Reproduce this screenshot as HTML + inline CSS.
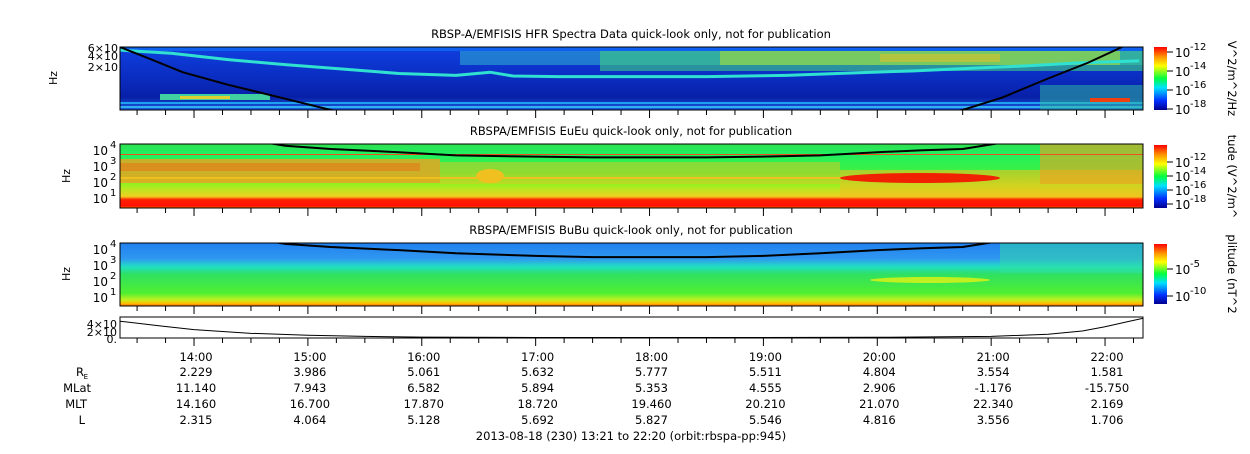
<!DOCTYPE html>
<html><head><meta charset="utf-8"><style>
body{margin:0;background:#fff;width:1250px;height:449px;overflow:hidden}
svg text{font-family:"DejaVu Sans","Liberation Sans",sans-serif;fill:#000}
</style></head><body>
<svg id="c" width="1250" height="449" xmlns="http://www.w3.org/2000/svg">
<defs>
<linearGradient id="g1" x1="0" y1="0" x2="0" y2="1">
<stop offset="0" stop-color="#1040e0"/><stop offset="0.5" stop-color="#0a2cc0"/><stop offset="0.8" stop-color="#0820a8"/><stop offset="1" stop-color="#1860e0"/></linearGradient>
<linearGradient id="g2" x1="0" y1="0" x2="0" y2="1">
<stop offset="0" stop-color="#30e050"/><stop offset="0.15" stop-color="#20f060"/><stop offset="0.45" stop-color="#40f040"/><stop offset="0.65" stop-color="#a0f020"/><stop offset="0.82" stop-color="#f0d020"/><stop offset="0.87" stop-color="#ff2000"/><stop offset="0.97" stop-color="#ff1000"/><stop offset="1" stop-color="#ff8000"/></linearGradient>
<linearGradient id="g3" x1="0" y1="0" x2="0" y2="1">
<stop offset="0" stop-color="#2080f0"/><stop offset="0.25" stop-color="#3098f0"/><stop offset="0.38" stop-color="#20e0c0"/><stop offset="0.5" stop-color="#30e060"/><stop offset="0.8" stop-color="#50f030"/><stop offset="0.9" stop-color="#c0f020"/><stop offset="0.96" stop-color="#ffc000"/><stop offset="1" stop-color="#ff6000"/></linearGradient>
<linearGradient id="cb" x1="0" y1="1" x2="0" y2="0">
<stop offset="0" stop-color="#00008f"/><stop offset="0.15" stop-color="#0030ff"/><stop offset="0.35" stop-color="#00e0ff"/><stop offset="0.5" stop-color="#00ff40"/><stop offset="0.7" stop-color="#ffff00"/><stop offset="0.85" stop-color="#ff9000"/><stop offset="1" stop-color="#ff0000"/></linearGradient>
<clipPath id="cp1"><rect x="120" y="47" width="1023" height="63"/></clipPath>
<clipPath id="cp2"><rect x="120" y="144" width="1023" height="64"/></clipPath>
<clipPath id="cp3"><rect x="120" y="243" width="1023" height="63"/></clipPath>
</defs>
</svg>
<script>
// time axis (hours since 00:00)
const tStart = 13 + 21/60, tEnd = 22 + 20/60;
const tickHours = [14,15,16,17,18,19,20,21,22];
const tickLabels = ["14:00","15:00","16:00","17:00","18:00","19:00","20:00","21:00","22:00"];
const rowNames = ["R_E","MLat","MLT","L"];
const rowRE = ["2.229","3.986","5.061","5.632","5.777","5.511","4.804","3.554","1.581"];
const rowMLat = ["11.140","7.943","6.582","5.894","5.353","4.555","2.906","-1.176","-15.750"];
const rowMLT = ["14.160","16.700","17.870","18.720","19.460","20.210","21.070","22.340","2.169"];
const rowL = ["2.315","4.064","5.128","5.692","5.827","5.546","4.816","3.556","1.706"];
// upper-hybrid line in panel 1 (fraction from top of panel)
const uhTimes = [13.35,13.8,14.3,14.8,15.3,15.8,16.3,16.6,16.8,17.2,17.8,18.5,19.2,19.8,20.3,20.8,21.3,21.8,22.3];
const uhFrac = [0.05,0.1,0.2,0.28,0.35,0.42,0.45,0.4,0.46,0.47,0.47,0.47,0.45,0.41,0.38,0.34,0.3,0.25,0.22];
// cyclotron curves (fraction from top)
const fcTimes = [13.35,13.6,13.9,14.3,14.8,15.2,15.8,16.3,17,17.5,18,18.5,19,19.5,20,20.4,20.75,21.1,21.5,21.85,22.15];
const fc1 = [0,0.18,0.4,0.6,0.82,1.0,1.15,1.2,1.25,1.25,1.25,1.25,1.25,1.2,1.15,1.08,1.0,0.8,0.5,0.25,0];
const fc2 = [-0.6,-0.4,-0.3,-0.2,-0.05,0.0,0.05,0.1,0.12,0.13,0.13,0.13,0.12,0.1,0.05,0.02,0,-0.1,-0.25,-0.45,-0.6];
const fc3 = [-0.6,-0.4,-0.3,-0.2,-0.05,0.0,0.05,0.1,0.14,0.16,0.16,0.16,0.14,0.1,0.05,0.02,0,-0.1,-0.25,-0.45,-0.6];
// panel 4 value (x10^4)
const p4Times = [13.35,13.7,14,14.5,15,15.5,16,17,18,19,20,21,21.5,21.8,22,22.2,22.33];
const p4Vals = [3.6,2.6,1.8,1.0,0.6,0.35,0.2,0.1,0.1,0.1,0.15,0.35,0.8,1.5,2.4,3.5,4.2];

const X0=120,X1=1143;
const x = t => X0 + (t - tStart)/(tEnd - tStart)*(X1-X0);
const NS="http://www.w3.org/2000/svg";
const svg=document.getElementById('c');
function el(tag,attrs,parent,text){const e=document.createElementNS(NS,tag);for(const k in attrs)e.setAttribute(k,attrs[k]);if(text!==undefined)e.textContent=text;(parent||svg).appendChild(e);return e;}
function t(xx,yy,s,anchor,size,name){const e=el('text',{x:xx,y:yy,'font-size':size||11,'text-anchor':anchor||'middle'},svg,s);

return e;}

const panels=[{y:47,h:63,g:'g1',title:'RBSP-A/EMFISIS  HFR Spectra Data quick-look only, not for publication',name:'hfr-panel'},
{y:144,h:64,g:'g2',title:'RBSPA/EMFISIS  EuEu quick-look only, not for publication',name:'eueu-panel'},
{y:243,h:63,g:'g3',title:'RBSPA/EMFISIS  BuBu quick-look only, not for publication',name:'bubu-panel'}];
panels.forEach((p,i)=>{
 const r=el('rect',{x:X0,y:p.y,width:X1-X0,height:p.h,fill:'url(#'+p.g+')'});
 
 
 t(631,p.y-9,p.title,'middle',11.5,p.name+'-title');
});
// panel1 features
const g1=el('g',{'clip-path':'url(#cp1)'});
el('rect',{x:X0,y:47,width:X1-X0,height:4,fill:'#1060f0'},g1);
el('rect',{x:460,y:51,width:683,height:14,fill:'#30b0d0',opacity:0.55},g1);
el('rect',{x:600,y:51,width:543,height:20,fill:'#40d080',opacity:0.6},g1);
el('rect',{x:720,y:51,width:400,height:14,fill:'#b0e030',opacity:0.55},g1);
el('rect',{x:880,y:54,width:120,height:8,fill:'#f0c020',opacity:0.5},g1);
el('rect',{x:160,y:94,width:110,height:6,fill:'#40d0a0'},g1);
el('rect',{x:180,y:96,width:50,height:3,fill:'#e0d030'},g1);
el('rect',{x:X0,y:102,width:X1-X0,height:2,fill:'#20a0f0'},g1);
el('rect',{x:X0,y:106,width:X1-X0,height:2,fill:'#30b0f0'},g1);
el('rect',{x:1040,y:85,width:103,height:25,fill:'#30c0a0',opacity:0.5},g1);
el('rect',{x:1090,y:98,width:40,height:4,fill:'#f04010'},g1);
const uh=el('polyline',{fill:'none',stroke:'#30e0d0','stroke-width':3,points:uhTimes.map((tt,i)=>x(tt)+','+(47+uhFrac[i]*63)).join(' ')},g1);


const c1=el('polyline',{fill:'none',stroke:'#000','stroke-width':2,points:fcTimes.map((tt,i)=>x(tt)+','+(47+fc1[i]*63)).join(' ')},g1);


// panel2 features
const g2=el('g',{'clip-path':'url(#cp2)'});
el('rect',{x:X0,y:159,width:320,height:24,fill:'#f0a020',opacity:0.8},g2);
el('rect',{x:X0,y:163,width:300,height:8,fill:'#f06010',opacity:0.4},g2);
el('rect',{x:440,y:162,width:400,height:22,fill:'#f0c020',opacity:0.45},g2);
el('ellipse',{cx:490,cy:176,rx:14,ry:7,fill:'#f0c020'},g2);
el('rect',{x:X0,y:177,width:800,height:2,fill:'#f0c020'},g2);
el('rect',{x:840,y:170,width:303,height:26,fill:'#f0c020',opacity:0.6},g2);
el('ellipse',{cx:920,cy:178,rx:80,ry:5,fill:'#f02000'},g2);
el('rect',{x:1040,y:144,width:103,height:40,fill:'#f0a020',opacity:0.6},g2);
el('rect',{x:X0,y:154,width:X1-X0,height:1,fill:'#f05020'},g2);
const c2=el('polyline',{fill:'none',stroke:'#000','stroke-width':2,points:fcTimes.map((tt,i)=>x(tt)+','+(144+fc2[i]*64+5)).join(' ')},g2);


// panel3 features
const g3=el('g',{'clip-path':'url(#cp3)'});
el('rect',{x:1000,y:243,width:143,height:30,fill:'#30e0a0',opacity:0.5},g3);
el('ellipse',{cx:930,cy:280,rx:60,ry:3,fill:'#c0f020'},g3);
const c3=el('polyline',{fill:'none',stroke:'#000','stroke-width':2,points:fcTimes.map((tt,i)=>x(tt)+','+(243+fc3[i]*63+4)).join(' ')},g3);


// frames + ticks
[[47,63],[144,64],[243,63],[317,21]].forEach((p,i)=>{
 el('rect',{x:X0,y:p[0],width:X1-X0,height:p[1],fill:'none',stroke:'#000','stroke-width':1});
 for(let h=13.5;h<=22.34;h+=0.25){const xx=x(h);if(xx<X0)continue;const major=Math.abs(h-Math.round(h))<0.01;
  el('line',{x1:xx,x2:xx,y1:p[0]+p[1],y2:p[0]+p[1]+(major?8:5),stroke:'#000'});}
});
// y labels
t(57,78,'Hz','middle',11,'hfr-y-title').setAttribute('transform','rotate(-90 57 78)');
t(70,176,'Hz','middle',11,'eueu-y-title').setAttribute('transform','rotate(-90 70 176)');
t(70,274,'Hz','middle',11,'bubu-y-title').setAttribute('transform','rotate(-90 70 274)');
t(118,52,'6×10','end',11,'hfr-ytick');t(118,60,'4×10','end',11,'hfr-ytick');t(118,71,'2×10','end',11,'hfr-ytick');
[[150,'4'],[166,'3'],[182,'2'],[198,'1']].forEach((a,i)=>{t(108,a[0]+5,'10','end',12,'eueu-ytick');t(110,a[0]-2,a[1],'start',10,'eueu-ytick-exp');});
[[249,'4'],[265,'3'],[281,'2'],[297,'1']].forEach((a,i)=>{t(108,a[0]+5,'10','end',12,'bubu-ytick');t(110,a[0]-2,a[1],'start',10,'bubu-ytick-exp');});
t(117,328,'4×10','end',11,'p4-ytick');t(117,336,'2×10','end',11,'p4-ytick');t(117,343,'0.','end',11,'p4-ytick');
// panel4 line
const p4=el('polyline',{fill:'none',stroke:'#000','stroke-width':1,points:p4Times.map((tt,i)=>x(tt)+','+(338-p4Vals[i]/4.5*21)).join(' ')});


// colorbars
[[47,63,['-12','-14','-16','-18'],'V^2/m^2/Hz'],[145,63,['-12','-14','-16','-18'],'tude (V^2/m^'],[244,60,['-5','-10'],'plitude (nT^2']].forEach((c,i)=>{
 const r=el('rect',{x:1154,y:c[0],width:13,height:c[1],fill:'url(#cb)'});
 
 
 c[2].forEach((e,j)=>{const yy=i==2?c[0]+25+j*27:c[0]+(i==0?5:17)+j*(i==0?19:14);
  el('line',{x1:1167,x2:1173,y1:yy,y2:yy,stroke:'#000'});
  t(1175,yy+5,'10','start',12,'colorbar-tick');t(1190,yy-2,e,'start',10,'colorbar-tick-exp');});
 const lx=1228,ly=c[0]+c[1]/2;
 t(lx,ly,c[3],'middle',11.5,'colorbar-title-'+(i+1)).setAttribute('transform','rotate(90 '+lx+' '+ly+')');
});
// bottom table
tickHours.forEach((h,i)=>{const xx=x(h);
 t(xx+2,361,tickLabels[i],'middle',11.5,'x-tick-label');
 t(xx+2,376,rowRE[i],'middle',11.5,'re-value');
 t(xx+2,392,rowMLat[i],'middle',11.5,'mlat-value');
 t(xx+2,408,rowMLT[i],'middle',11.5,'mlt-value');
 t(xx+2,424,rowL[i],'middle',11.5,'l-value');
});
t(84,376,'R','end',11.5,'row-label');t(88,379,'E','end',7,'row-label-sub');
t(91,392,'MLat','end',11.5,'row-label');t(87,408,'MLT','end',11.5,'row-label');t(85,424,'L','end',11.5,'row-label');
t(631,440,'2013-08-18 (230) 13:21 to 22:20 (orbit:rbspa-pp:945)','middle',11.5,'date-caption');
</script>
</body></html>
